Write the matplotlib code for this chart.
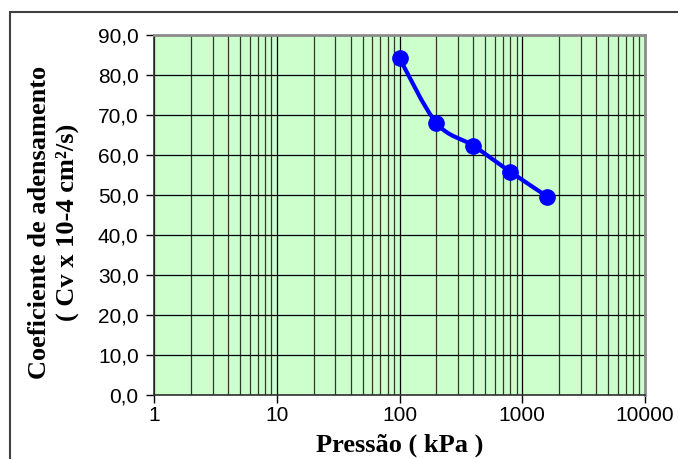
import matplotlib.pyplot as plt
import numpy as np
from matplotlib.path import Path
from matplotlib.patches import PathPatch, Rectangle
from matplotlib.ticker import FixedLocator, LogLocator, NullFormatter

# data
pressao = [100, 200, 400, 800, 1600]
cv = [84.2, 68.0, 62.3, 55.8, 49.6]
yticks = [0, 10, 20, 30, 40, 50, 60, 70, 80, 90]
xticks = [1, 10, 100, 1000, 10000]


def smooth_path(xs, ys, k=1.0 / 6):
    """Excel-like smoothed line: cubic Bezier through the points (log-x space)"""
    lx = np.log10(xs)
    ys = np.asarray(ys, dtype=float)
    n = len(lx)
    verts = [(lx[0], ys[0])]
    codes = [Path.MOVETO]
    for i in range(n - 1):
        p0 = np.array([lx[max(i - 1, 0)], ys[max(i - 1, 0)]])
        p1 = np.array([lx[i], ys[i]])
        p2 = np.array([lx[i + 1], ys[i + 1]])
        p3 = np.array([lx[min(i + 2, n - 1)], ys[min(i + 2, n - 1)]])
        c1 = p1 + (p2 - p0) * k
        c2 = p2 - (p3 - p1) * k
        verts += [tuple(c1), tuple(c2), tuple(p2)]
        codes += [Path.CURVE4] * 3
    verts = [(10 ** vx, vy) for vx, vy in verts]
    return Path(verts, codes)


fig = plt.figure(figsize=(6.78, 4.59), dpi=100)
ax = fig.add_axes([154 / 678, 1 - 395 / 459, (645 - 154) / 678, (395 - 35) / 459])

# outer chart border (only top and left are visible in the reference)
fig.patches.append(Rectangle((10 / 678, -0.1), 1.2, 1 - 12 / 459 + 0.1,
                             transform=fig.transFigure, fill=False,
                             edgecolor="#404040", linewidth=1.5))

ax.set_facecolor("#CCFFCC")
ax.set_xscale("log")
ax.set_xlim(1, 10000)
ax.set_ylim(0, 90)

ax.xaxis.set_major_locator(FixedLocator(xticks))
ax.xaxis.set_minor_locator(LogLocator(base=10, subs=np.arange(2, 10)))
ax.xaxis.set_minor_formatter(NullFormatter())
ax.set_xticks(xticks)
ax.set_xticklabels([str(v) for v in xticks])
ax.set_yticks(yticks)
ax.set_yticklabels([f"{v:.1f}".replace(".", ",") for v in yticks])

ax.grid(True, which="major", axis="both", color="black", linewidth=0.9)
ax.grid(True, which="minor", axis="x", color="#303830", linewidth=0.9)
ax.set_axisbelow(True)

ax.tick_params(axis="both", which="major", direction="out", length=6,
               width=1, labelsize=15, pad=5)
ax.tick_params(axis="x", which="major", pad=2)
ax.tick_params(axis="x", which="minor", length=0)
for lab in ax.get_xticklabels() + ax.get_yticklabels():
    lab.set_fontfamily("Liberation Sans")

ax.spines["top"].set_color("#8c8c8c")
ax.spines["right"].set_color("#8c8c8c")
ax.spines["top"].set_linewidth(2)
ax.spines["right"].set_linewidth(2)
ax.spines["left"].set_color("#303030")
ax.spines["bottom"].set_color("#303030")
ax.spines["left"].set_linewidth(1.2)
ax.spines["bottom"].set_linewidth(1.2)

# smoothed line plus markers
ax.add_patch(PathPatch(smooth_path(pressao, cv), facecolor="none",
                       edgecolor="#0000FF", linewidth=3, zorder=3))
ax.plot(pressao, cv, linestyle="none", marker="o", markersize=11,
        color="#0000FF", zorder=4)

fig.text(40 / 678, 1 - 222 / 459, "Coeficiente de adensamento",
         rotation=90, ha="center", va="center", fontsize=19,
         fontweight="bold", fontfamily="Liberation Serif")
fig.text(67 / 678, 1 - 222 / 459, "( Cv x 10-4 cm\u00b2/s)",
         rotation=90, ha="center", va="center", fontsize=19,
         fontweight="bold", fontfamily="Liberation Serif")
fig.text(400 / 678, 1 - 445 / 459, "Pressão ( kPa )", ha="center",
         va="center", fontsize=19, fontweight="bold",
         fontfamily="Liberation Serif")

fig.savefig("out.png", dpi=100)
